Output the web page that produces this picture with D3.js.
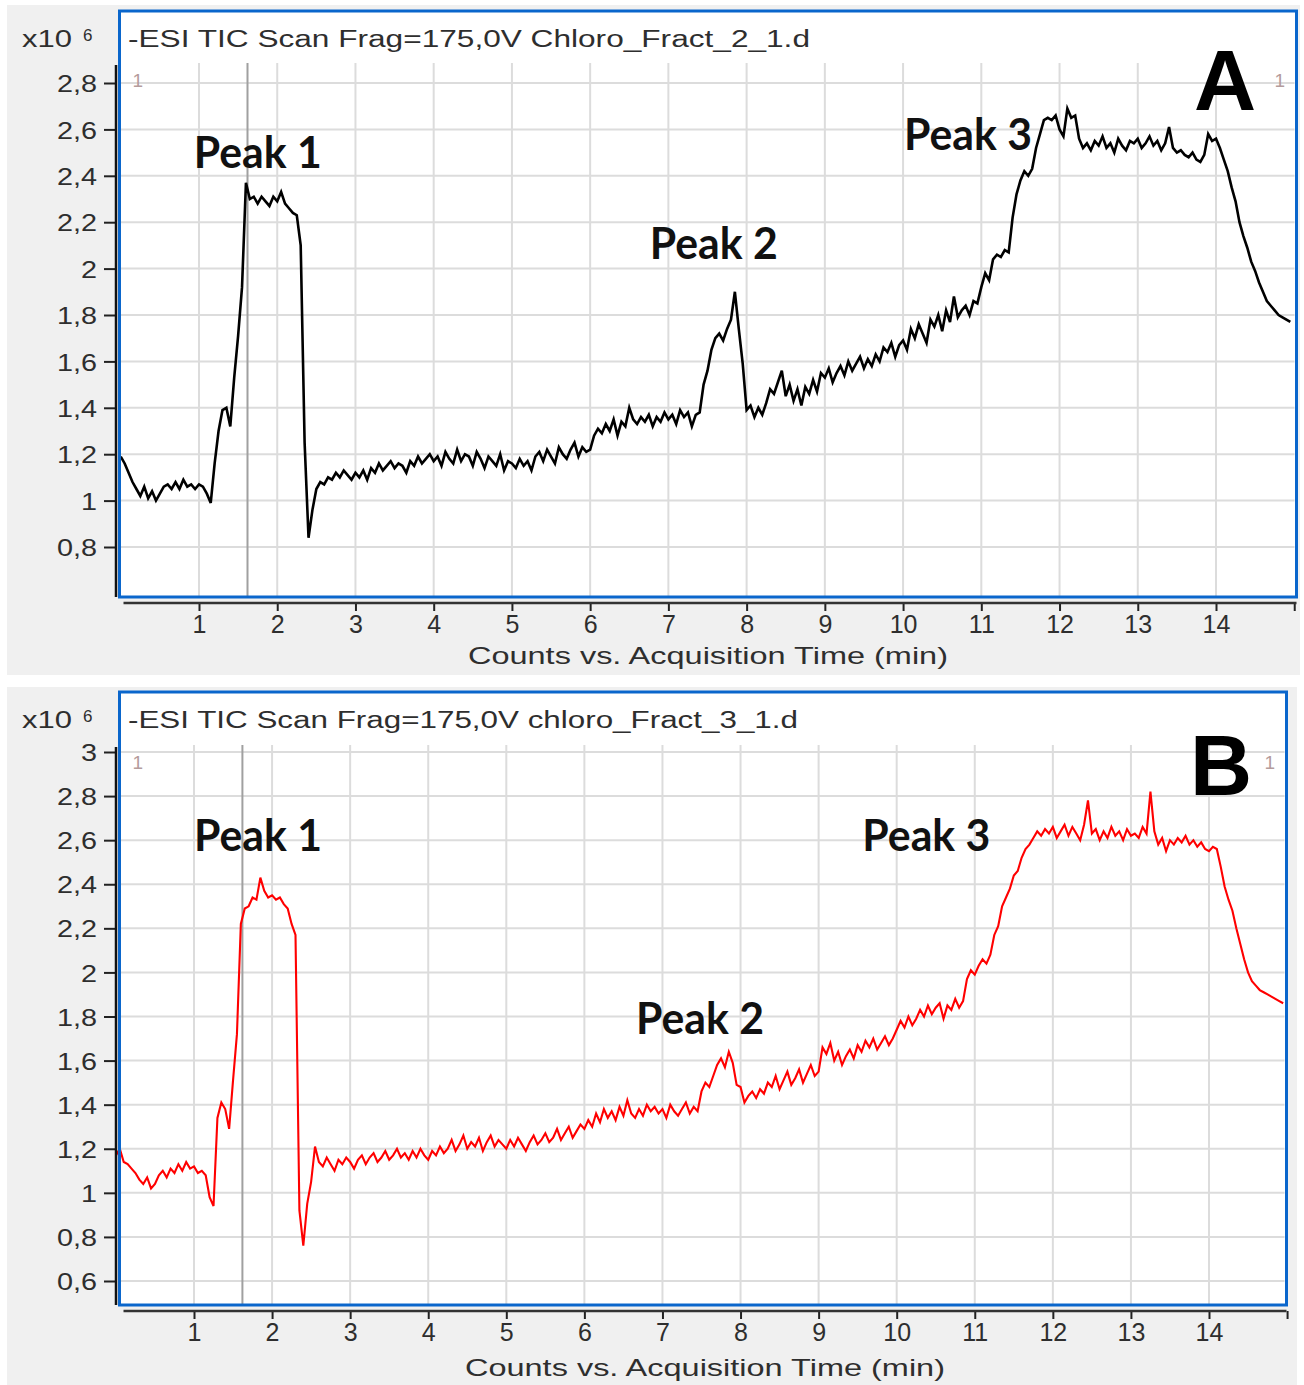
<!DOCTYPE html>
<html lang="en">
<head>
    <meta charset="utf-8">
    <title>TIC chromatograms</title>
    <script type="text/javascript" src="https://d3js.org/d3.v7.min.js"></script>
    <style type="text/css">
        body {
            margin: 0;
            background-color: #ffffff;
        }
        svg {
            display: block;
        }
        /* axis text */
        .tick text {
            font-family: "Liberation Sans", Arial, sans-serif;
            fill: #2e2e2e;
        }
        .title {
            font-family: "Liberation Sans", Arial, sans-serif;
            font-size: 23px;
            fill: #2e2e2e;
        }
        .axis_title {
            font-family: "Liberation Sans", Arial, sans-serif;
            font-size: 24px;
            fill: #2e2e2e;
        }
        .peak_label {
            font-family: Lato, "Open Sans", sans-serif;
            font-weight: bold;
            font-size: 43px;
            fill: #111111;
        }
        .panel_letter {
            font-family: "Liberation Sans", Arial, sans-serif;
            font-weight: bold;
            font-size: 86px;
            fill: #000000;
        }
        .marker_one {
            font-family: "Liberation Sans", Arial, sans-serif;
            font-size: 19px;
            fill: #b49c9c;
        }
    </style>
</head>
<body>
<svg width="1304" height="1385" id="chart"></svg>
<script type="text/javascript">

// scan times (min)
const scanTimes = [
    0,0.05,0.1,0.15,0.2,0.25,0.3,0.35,0.4,0.45,0.5,0.55,0.6,0.65,0.7,0.75,0.8,0.85,0.9,0.95,
    1,1.05,1.1,1.15,1.2,1.25,1.3,1.35,1.4,1.45,1.5,1.55,1.6,1.65,1.7,1.75,1.8,1.85,1.9,1.95,
    2,2.05,2.1,2.15,2.2,2.25,2.3,2.35,2.4,2.45,2.5,2.55,2.6,2.65,2.7,2.75,2.8,2.85,2.9,2.95,
    3,3.05,3.1,3.15,3.2,3.25,3.3,3.35,3.4,3.45,3.5,3.55,3.6,3.65,3.7,3.75,3.8,3.85,3.9,3.95,
    4,4.05,4.1,4.15,4.2,4.25,4.3,4.35,4.4,4.45,4.5,4.55,4.6,4.65,4.7,4.75,4.8,4.85,4.9,4.95,
    5,5.05,5.1,5.15,5.2,5.25,5.3,5.35,5.4,5.45,5.5,5.55,5.6,5.65,5.7,5.75,5.8,5.85,5.9,5.95,
    6,6.05,6.1,6.15,6.2,6.25,6.3,6.35,6.4,6.45,6.5,6.55,6.6,6.65,6.7,6.75,6.8,6.85,6.9,6.95,
    7,7.05,7.1,7.15,7.2,7.25,7.3,7.35,7.4,7.45,7.5,7.55,7.6,7.65,7.7,7.75,7.8,7.85,7.9,7.95,
    8,8.05,8.1,8.15,8.2,8.25,8.3,8.35,8.4,8.45,8.5,8.55,8.6,8.65,8.7,8.75,8.8,8.85,8.9,8.95,
    9,9.05,9.1,9.15,9.2,9.25,9.3,9.35,9.4,9.45,9.5,9.55,9.6,9.65,9.7,9.75,9.8,9.85,9.9,9.95,
    10,10.05,10.1,10.15,10.2,10.25,10.3,10.35,10.4,10.45,10.5,10.55,10.6,10.65,10.7,10.75,10.8,10.85,10.9,10.95,
    11,11.05,11.1,11.15,11.2,11.25,11.3,11.35,11.4,11.45,11.5,11.55,11.6,11.65,11.7,11.75,11.8,11.85,11.9,11.95,
    12,12.05,12.1,12.15,12.2,12.25,12.3,12.35,12.4,12.45,12.5,12.55,12.6,12.65,12.7,12.75,12.8,12.85,12.9,12.95,
    13,13.05,13.1,13.15,13.2,13.25,13.3,13.35,13.4,13.45,13.5,13.55,13.6,13.65,13.7,13.75,13.8,13.85,13.9,13.95,
    14,14.05,14.1,14.15,14.2,14.25,14.3,14.35,14.4,14.45,14.5,14.55,14.6,14.65,14.7,14.75,14.8,14.85,14.9,14.95
];

// TIC counts (x10^6), fraction 2 (panel A)
const ticFract2 = [
    1.19,1.16,1.12,1.08,1.05,1.02,1.06,1.01,1.04,1.00,1.03,1.06,1.07,1.05,1.08,1.05,1.09,1.06,1.07,1.05,
    1.07,1.06,1.03,0.99,1.16,1.30,1.39,1.40,1.32,1.53,1.71,1.92,2.37,2.30,2.31,2.28,2.31,2.29,2.27,2.31,
    2.29,2.33,2.28,2.26,2.24,2.23,2.10,1.25,0.84,0.96,1.05,1.08,1.07,1.10,1.09,1.12,1.10,1.13,1.11,1.09,
    1.12,1.10,1.13,1.09,1.14,1.12,1.16,1.13,1.15,1.17,1.14,1.16,1.15,1.12,1.17,1.15,1.19,1.16,1.18,1.20,
    1.17,1.19,1.15,1.21,1.18,1.16,1.22,1.17,1.20,1.19,1.15,1.21,1.18,1.14,1.19,1.17,1.15,1.20,1.13,1.17,
    1.16,1.14,1.18,1.15,1.17,1.13,1.19,1.21,1.17,1.22,1.19,1.16,1.23,1.20,1.18,1.22,1.25,1.19,1.23,1.21,
    1.22,1.28,1.31,1.29,1.33,1.30,1.35,1.28,1.34,1.32,1.40,1.35,1.33,1.36,1.34,1.37,1.32,1.36,1.34,1.38,
    1.35,1.37,1.33,1.39,1.36,1.38,1.32,1.37,1.38,1.50,1.56,1.65,1.70,1.72,1.69,1.74,1.78,1.90,1.74,1.59,
    1.39,1.41,1.36,1.40,1.37,1.42,1.48,1.46,1.51,1.56,1.45,1.50,1.43,1.48,1.41,1.49,1.46,1.52,1.47,1.55,
    1.53,1.57,1.51,1.55,1.58,1.54,1.60,1.56,1.59,1.62,1.57,1.61,1.58,1.63,1.60,1.66,1.64,1.68,1.62,1.67,
    1.69,1.65,1.74,1.70,1.76,1.72,1.68,1.78,1.75,1.80,1.73,1.82,1.77,1.88,1.79,1.82,1.84,1.80,1.86,1.85,
    1.92,1.98,1.95,2.04,2.06,2.05,2.08,2.07,2.22,2.32,2.38,2.42,2.40,2.43,2.52,2.58,2.64,2.65,2.64,2.66,
    2.60,2.57,2.69,2.65,2.66,2.56,2.52,2.54,2.51,2.55,2.53,2.57,2.52,2.54,2.50,2.56,2.53,2.51,2.55,2.54,
    2.56,2.52,2.54,2.57,2.53,2.55,2.51,2.54,2.61,2.52,2.50,2.51,2.49,2.48,2.50,2.47,2.46,2.49,2.58,2.55,
    2.56,2.52,2.47,2.42,2.35,2.29,2.20,2.14,2.09,2.03,1.99,1.94,1.90,1.86,1.84,1.82,1.80,1.79,1.78,1.77
];

// TIC counts (x10^6), fraction 3 (panel B)
const ticFract3 = [
    1.17,1.20,1.14,1.13,1.11,1.09,1.06,1.04,1.07,1.02,1.04,1.08,1.10,1.07,1.11,1.09,1.13,1.10,1.14,1.11,
    1.12,1.09,1.10,1.08,0.98,0.94,1.34,1.41,1.38,1.29,1.51,1.72,2.22,2.29,2.30,2.34,2.33,2.43,2.37,2.34,
    2.35,2.33,2.34,2.31,2.29,2.22,2.17,0.92,0.76,0.95,1.05,1.21,1.14,1.12,1.16,1.13,1.10,1.15,1.13,1.16,
    1.14,1.11,1.15,1.17,1.13,1.16,1.18,1.14,1.16,1.19,1.15,1.17,1.20,1.16,1.18,1.15,1.19,1.16,1.20,1.17,
    1.15,1.19,1.17,1.21,1.18,1.20,1.24,1.19,1.22,1.26,1.20,1.23,1.21,1.25,1.19,1.23,1.26,1.21,1.24,1.22,
    1.20,1.24,1.21,1.25,1.22,1.19,1.23,1.26,1.22,1.24,1.27,1.23,1.25,1.29,1.24,1.27,1.30,1.25,1.28,1.31,
    1.29,1.33,1.30,1.36,1.32,1.38,1.34,1.37,1.33,1.39,1.35,1.42,1.36,1.34,1.38,1.35,1.40,1.37,1.39,1.36,
    1.38,1.34,1.40,1.37,1.35,1.38,1.41,1.36,1.39,1.37,1.46,1.50,1.48,1.53,1.58,1.61,1.57,1.64,1.59,1.49,
    1.48,1.41,1.44,1.46,1.43,1.47,1.45,1.50,1.48,1.53,1.47,1.51,1.55,1.49,1.52,1.56,1.50,1.54,1.58,1.53,
    1.55,1.66,1.63,1.68,1.60,1.64,1.58,1.62,1.65,1.61,1.67,1.64,1.69,1.66,1.70,1.65,1.68,1.71,1.67,1.70,
    1.74,1.78,1.75,1.80,1.76,1.79,1.83,1.80,1.85,1.81,1.84,1.86,1.79,1.85,1.83,1.88,1.84,1.87,1.97,2.01,
    1.99,2.03,2.06,2.04,2.08,2.17,2.21,2.30,2.34,2.38,2.44,2.46,2.52,2.56,2.58,2.61,2.64,2.62,2.65,2.63,
    2.66,2.61,2.64,2.67,2.62,2.66,2.63,2.60,2.67,2.78,2.63,2.65,2.60,2.64,2.61,2.66,2.62,2.64,2.60,2.65,
    2.62,2.63,2.61,2.66,2.63,2.82,2.64,2.58,2.61,2.55,2.60,2.58,2.61,2.59,2.62,2.58,2.60,2.57,2.59,2.56,
    2.55,2.57,2.56,2.48,2.39,2.33,2.28,2.20,2.13,2.06,2.00,1.96,1.94,1.92,1.91,1.90,1.89,1.88,1.87,1.86
];

// tick values
const xTicks = [1,2,3,4,5,6,7,8,9,10,11,12,13,14,15];
const yTicksA = [0.8,1,1.2,1.4,1.6,1.8,2,2.2,2.4,2.6,2.8];
const yTicksB = [0.6,0.8,1,1.2,1.4,1.6,1.8,2,2.2,2.4,2.6,2.8,3];

// titles and labels
const titleA = "-ESI TIC Scan Frag=175,0V Chloro_Fract_2_1.d";
const titleB = "-ESI TIC Scan Frag=175,0V chloro_Fract_3_1.d";
const xTitle = "Counts vs. Acquisition Time (min)";
const peakNames = ["Peak 1", "Peak 2", "Peak 3"];
// label anchor (time, counts) per peak
const peakTimesA = [1.75, 7.58, 10.83];
const peakCountsA = [2.50, 2.11, 2.58];
const peakTimesB = [1.82, 7.48, 10.38];
const peakCountsB = [2.62, 1.79, 2.62];
// the grey cursor line in the data system
const cursorTime = 1.62;


const svg = d3.select("#chart");

// comma decimal separator, like the instrument software
const commaFormat = d => String(+d.toFixed(1)).replace(".", ",");

function drawPanel(p) {
    const g = svg.append("g");

    // grey window background
    g.append("rect")
        .attr("x", p.bg[0]).attr("y", p.bg[1])
        .attr("width", p.bg[2]).attr("height", p.bg[3])
        .style("fill", "#f0f0f0");

    // white plot window
    g.append("rect")
        .attr("x", p.frame[0]).attr("y", p.frame[1])
        .attr("width", p.frame[2]).attr("height", p.frame[3])
        .style("fill", "#ffffff");

    const left = p.frame[0], right = p.frame[0] + p.frame[2];
    const bottom = p.frame[1] + p.frame[3];

    // scales
    const xScale = d3.scaleLinear().domain([1, 14]).range(p.xRange);
    const yScale = d3.scaleLinear().domain(p.yDomain).range(p.yRange);

    // grid
    g.selectAll("vgrid")
        .data(xTicks.filter(d => d < 15))
        .enter()
        .append("line")
        .attr("x1", d => xScale(d)).attr("x2", d => xScale(d))
        .attr("y1", p.plotTop).attr("y2", bottom)
        .style("stroke", "#dcdcdc").style("stroke-width", 2);

    g.selectAll("hgrid")
        .data(p.yTicks)
        .enter()
        .append("line")
        .attr("x1", left).attr("x2", right - 2)
        .attr("y1", d => yScale(d)).attr("y2", d => yScale(d))
        .style("stroke", "#dcdcdc").style("stroke-width", 2);

    // cursor line
    g.append("line")
        .attr("x1", xScale(cursorTime)).attr("x2", xScale(cursorTime))
        .attr("y1", p.plotTop).attr("y2", bottom)
        .style("stroke", "#a0a0a0").style("stroke-width", 2);

    // trace
    const line = d3.line()
        .x((d, i) => xScale(scanTimes[i]))
        .y(d => yScale(d));

    g.append("path")
        .datum(p.values)
        .attr("d", line)
        .style("fill", "none")
        .style("stroke", p.color)
        .style("stroke-width", p.width)
        .style("stroke-linejoin", "miter");

    // blue frame
    g.append("rect")
        .attr("x", p.frame[0]).attr("y", p.frame[1])
        .attr("width", p.frame[2]).attr("height", p.frame[3])
        .style("fill", "none")
        .style("stroke", "#0a66cc")
        .style("stroke-width", 3);

    // y axis
    const leftAxis = d3.axisLeft(yScale)
        .tickValues(p.yTicks)
        .tickSize(12)
        .tickFormat(commaFormat);

    const yAxisG = g.append("g")
        .attr("transform", "translate(" + p.axisX + ",0)")
        .call(leftAxis);
    yAxisG.select(".domain").remove();
    yAxisG.selectAll(".tick line").style("stroke", "#222").style("stroke-width", 2);
    yAxisG.selectAll(".tick text")
        .style("font-size", "24px")
        .attr("transform", "scale(1.2,1)")
        .attr("x", -19 / 1.2)
        .attr("dy", "0.36em");

    g.append("line")
        .attr("x1", p.axisX).attr("x2", p.axisX)
        .attr("y1", p.plotTop + 2).attr("y2", bottom)
        .style("stroke", "#111").style("stroke-width", 2.5);

    // x axis
    const bottomAxis = d3.axisBottom(xScale)
        .tickValues(xTicks)
        .tickSize(8)
        .tickFormat(d => d < 15 ? d : "");

    const xAxisG = g.append("g")
        .attr("transform", "translate(0," + p.axisY + ")")
        .call(bottomAxis);
    xAxisG.select(".domain").remove();
    xAxisG.selectAll(".tick line").style("stroke", "#222").style("stroke-width", 2);
    xAxisG.selectAll(".tick text")
        .style("font-size", "25px")
        .attr("y", 12)
        .attr("dy", "0.71em");

    g.append("line")
        .attr("x1", left + 4).attr("x2", right)
        .attr("y1", p.axisY).attr("y2", p.axisY)
        .style("stroke", "#333").style("stroke-width", 2.5);

    // x axis title
    g.append("text")
        .attr("class", "axis_title")
        .attr("x", p.xTitlePos[0]).attr("y", p.xTitlePos[1])
        .attr("dy", "0.35em")
        .attr("textLength", 480)
        .attr("lengthAdjust", "spacingAndGlyphs")
        .text(xTitle);

    // scale factor
    g.append("text")
        .attr("class", "title")
        .attr("x", 22).attr("y", p.frame[1] + 28)
        .attr("dy", "0.35em")
        .attr("textLength", 50)
        .attr("lengthAdjust", "spacingAndGlyphs")
        .text("x10");
    g.append("text")
        .attr("class", "title")
        .style("font-size", "17px")
        .attr("x", 83).attr("y", p.frame[1] + 24)
        .attr("dy", "0.35em")
        .text("6");

    // plot title
    g.append("text")
        .attr("class", "title")
        .attr("x", 128).attr("y", p.frame[1] + 28)
        .attr("dy", "0.35em")
        .attr("textLength", p.titleWidth)
        .attr("lengthAdjust", "spacingAndGlyphs")
        .text(p.title);

    // little "1" markers
    g.selectAll("ones")
        .data([left + 13, right - 22])
        .enter()
        .append("text")
        .attr("class", "marker_one")
        .attr("x", d => d).attr("y", p.plotTop + 17)
        .attr("dy", "0.35em")
        .text("1");

    // peak labels
    g.selectAll("peaks")
        .data(peakNames)
        .enter()
        .append("text")
        .attr("class", "peak_label")
        .attr("text-anchor", "middle")
        .attr("x", (d, i) => xScale(p.peakTimes[i]))
        .attr("y", (d, i) => yScale(p.peakCounts[i]))
        .attr("dy", "0.36em")
        .attr("textLength", 128)
        .attr("lengthAdjust", "spacingAndGlyphs")
        .text(d => d);

    // panel letter
    g.append("text")
        .attr("class", "panel_letter")
        .attr("text-anchor", "middle")
        .attr("x", p.letterPos[0]).attr("y", p.letterPos[1])
        .attr("dy", "0.36em")
        .text(p.letter);
}

// panel A
drawPanel({
    bg: [7, 5, 1293, 670],
    frame: [119.5, 11, 1177, 586],
    plotTop: 63,
    xRange: [199, 1216],
    yDomain: [0.8, 2.8],
    yRange: [547, 83],
    yTicks: yTicksA,
    axisX: 116,
    axisY: 603,
    values: ticFract2,
    color: "#000000",
    width: 2.6,
    title: titleA,
    titleWidth: 682,
    xTitlePos: [468, 656],
    peakTimes: peakTimesA,
    peakCounts: peakCountsA,
    letter: "A",
    letterPos: [1225, 79]
});

// panel B
drawPanel({
    bg: [7, 687, 1290, 698],
    frame: [119.5, 692, 1167, 613],
    plotTop: 745,
    xRange: [194, 1209],
    yDomain: [0.6, 3],
    yRange: [1281, 752],
    yTicks: yTicksB,
    axisX: 116,
    axisY: 1311,
    values: ticFract3,
    color: "#ff0000",
    width: 2.1,
    title: titleB,
    titleWidth: 670,
    xTitlePos: [465, 1368],
    peakTimes: peakTimesB,
    peakCounts: peakCountsB,
    letter: "B",
    letterPos: [1221, 764]
});

</script>
</body>
</html>
